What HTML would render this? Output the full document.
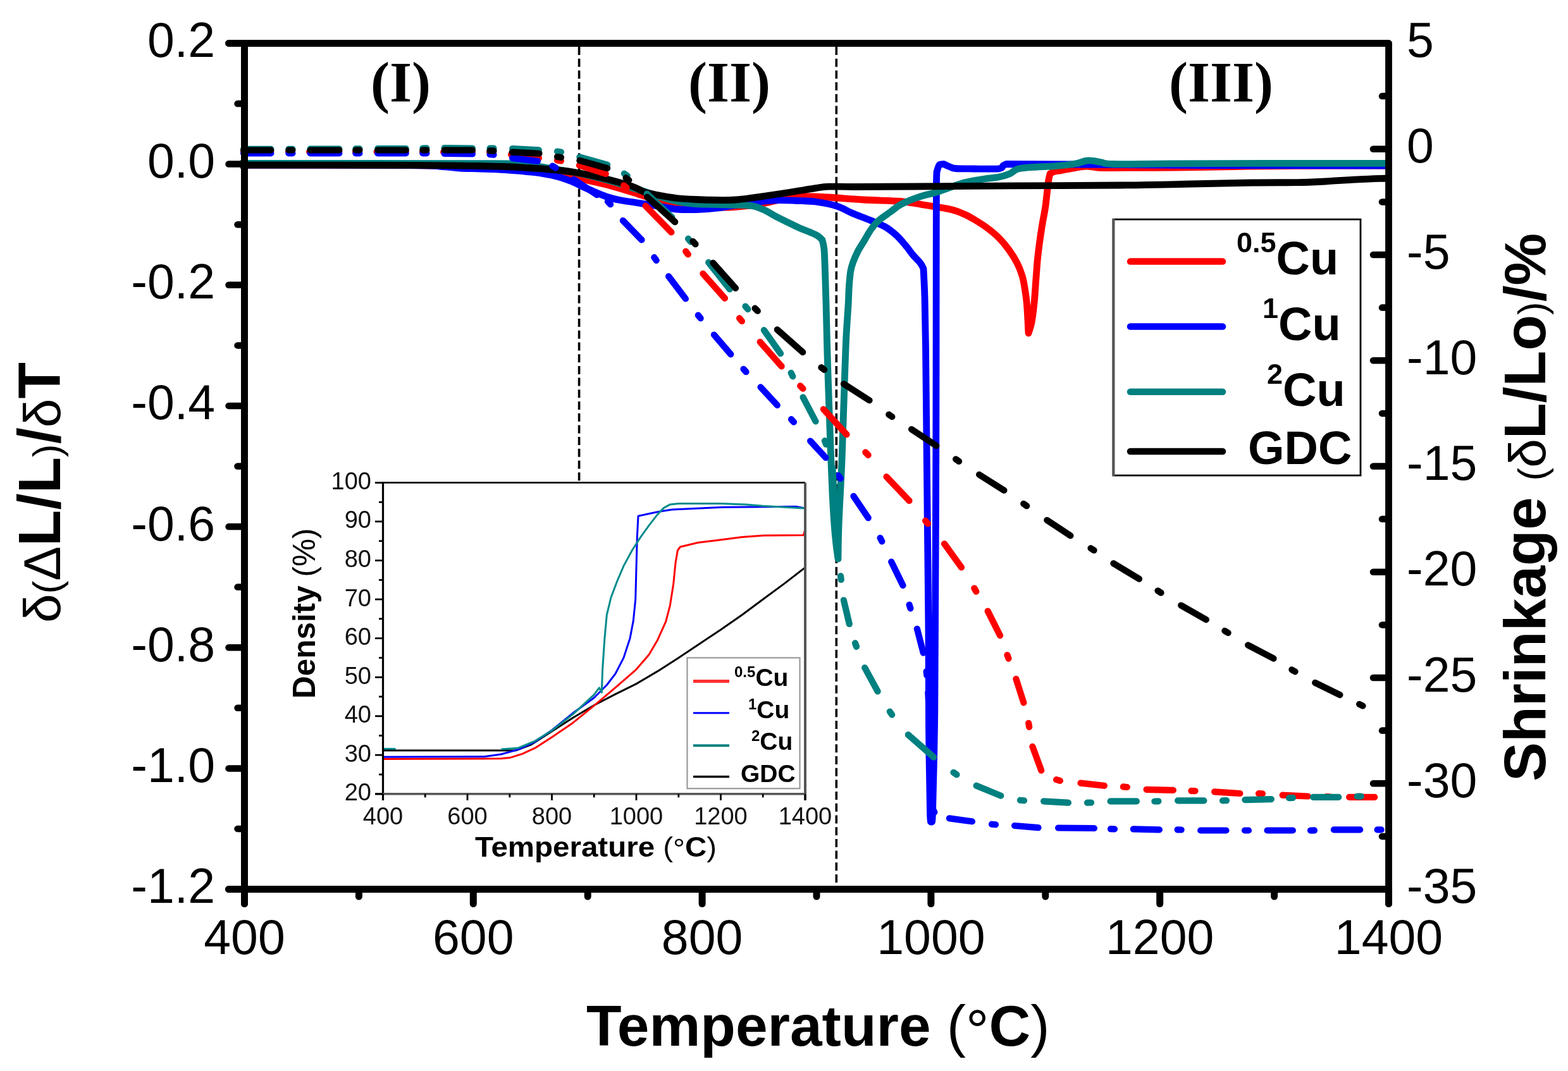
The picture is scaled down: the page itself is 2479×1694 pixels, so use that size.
<!DOCTYPE html><html><head><meta charset="utf-8"><title>Dilatometry plot</title>
<style>html,body{margin:0;padding:0;background:#fff;width:2479px;height:1694px;overflow:hidden}svg{display:block}.s{font-family:"Liberation Sans",Arial,sans-serif}.r{font-family:"Liberation Serif","Times New Roman",serif}</style></head><body>
<svg width="2479" height="1694" viewBox="0 0 2479 1694">
<rect width="2479" height="1694" fill="#fff"/>
<line x1="915.6" y1="74" x2="915.6" y2="1396" stroke="#000" stroke-width="3.6" stroke-dasharray="13 5.7"/>
<line x1="1322.3" y1="74" x2="1322.3" y2="1396" stroke="#000" stroke-width="3.6" stroke-dasharray="13 5.7"/>
<path d="M380,261 C425,261.1 586.7,261 650,261.5 C713.3,262 735.3,263.3 760,264 C784.7,264.7 784.7,264.6 798,265.5 C811.3,266.4 826.3,267.9 840,269.5 C853.7,271.1 866.2,272.6 880,275 C893.8,277.4 908.7,280.8 923,284 C937.3,287.2 951.7,290.2 966,294 C980.3,297.8 996.7,303.2 1009,307 C1021.3,310.8 1029.8,314.4 1040,317 C1050.2,319.6 1060,321.2 1070,322.5 C1080,323.8 1089.8,324.1 1100,325 C1110.2,325.9 1121,327.6 1131,328 C1141,328.4 1148.2,328.4 1160,327.5 C1171.8,326.6 1189.5,324.6 1202,322.6 C1214.5,320.6 1224.7,317.4 1235,315.5 C1245.3,313.6 1253.2,311.7 1264,311 C1274.8,310.3 1283,310.7 1300,311.5 C1317,312.3 1345.3,314.8 1366,316 C1386.7,317.2 1407.8,317.1 1424,318.5 C1440.2,319.9 1450,322.4 1463,324.5 C1476,326.6 1491.7,328.6 1502,331 C1512.3,333.4 1518.7,336.3 1525,339 C1531.3,341.7 1534.2,343.5 1540,347 C1545.8,350.5 1553.5,355.2 1560,360 C1566.5,364.8 1573.2,370.2 1579,376 C1584.8,381.8 1590.2,388.3 1595,395 C1599.8,401.7 1604.5,409.2 1608,416 C1611.5,422.8 1614,429.5 1616,436 C1618,442.5 1618.8,447.3 1620,455 C1621.2,462.7 1622.5,470 1623.5,482 C1624.5,494 1625.6,519.5 1626,527 C1626.8,524.2 1629.5,517.8 1631,510 C1632.5,502.2 1633.8,491.7 1635,480 C1636.2,468.3 1637,452.7 1638,440 C1639,427.3 1639.5,417.3 1641,404 C1642.5,390.7 1645,372.8 1647,360 C1649,347.2 1651.1,338.7 1652.8,327 C1654.5,315.3 1655.8,298.7 1657,290 C1658.2,281.3 1659.5,277.5 1660,275 C1661,274.4 1663.1,272.5 1666,271.6 C1668.9,270.7 1671.8,270.6 1677.5,269.6 C1683.2,268.6 1693.4,266.6 1700,265.5 C1706.6,264.4 1711.2,263.1 1717,263 C1722.8,262.9 1728.7,264.6 1735,265 C1741.3,265.4 1734.5,265.5 1755,265.5 C1775.5,265.5 1825.5,265.3 1858,265 C1890.5,264.7 1918,263.9 1950,263.5 C1982,263.1 2009.7,262.6 2050,262.3 C2090.3,262.1 2168.3,262.1 2192,262" fill="none" stroke="#ff0000" stroke-width="10.8" stroke-linejoin="round"/>
<path d="M380,261 C425,261.1 596.7,261.1 650,261.5 C703.3,261.9 687.2,262.8 700,263.5 C712.8,264.2 717,265.4 727,266 C737,266.6 748.2,266.6 760,267 C771.8,267.4 784.2,267.6 798,268.5 C811.8,269.4 829.3,270.8 843,272.5 C856.7,274.2 869.7,276.5 880,279 C890.3,281.5 898.2,284.8 905,287.5 C911.8,290.2 915.2,292.3 921,295 C926.8,297.7 933.5,300.8 940,303.5 C946.5,306.2 953.3,309.3 960,311.5 C966.7,313.7 971.8,314.9 980,316.5 C988.2,318.1 999,319.4 1009,321 C1019,322.6 1029.8,324.3 1040,326 C1050.2,327.7 1060,330.1 1070,331 C1080,331.9 1089,331.8 1100,331.5 C1111,331.2 1126,330.1 1136,329 C1146,327.9 1151.3,326.4 1160,325 C1168.7,323.6 1177,321.7 1188,320.3 C1199,318.9 1214,317.3 1226,316.8 C1238,316.3 1249.5,317.1 1260,317.5 C1270.5,317.9 1278.5,317.6 1289,319 C1299.5,320.4 1313.3,323 1323,326 C1332.7,329 1338.3,333.3 1347,337 C1355.7,340.7 1366.3,344.4 1375,348 C1383.7,351.6 1391.9,354.4 1399,358.5 C1406.1,362.6 1412,367.5 1417.5,372.5 C1423,377.5 1427.6,383.4 1432,388.6 C1436.4,393.9 1440.2,399.4 1444,404 C1447.8,408.6 1452.3,412.5 1455,416 C1457.7,419.5 1459.2,423.5 1460,425 C1460.3,432.5 1461.4,449.2 1462,470 C1462.6,490.8 1463,511.7 1463.5,550 C1464,588.3 1464.5,650 1465,700 C1465.5,750 1466,800 1466.5,850 C1467,900 1467.7,950 1468,1000 C1468.3,1050 1468.1,1102.5 1468.5,1150 C1468.9,1197.5 1469.8,1260.3 1470.5,1285 C1471.2,1309.7 1472.2,1295.8 1472.5,1298 C1472.8,1295.8 1473.7,1309.7 1474.5,1285 C1475.3,1260.3 1476.8,1197.5 1477.5,1150 C1478.2,1102.5 1478.2,1058.3 1478.5,1000 C1478.8,941.7 1479.2,866.7 1479.5,800 C1479.8,733.3 1479.9,666.7 1480,600 C1480.1,533.3 1480.1,450 1480.2,400 C1480.3,350 1480.3,321.3 1480.4,300 C1480.5,278.7 1480.9,276.7 1481,272 C1481.7,270.2 1483.2,263.1 1485,261 C1486.8,258.9 1490.8,259.8 1492,259.5 C1493.7,260.2 1498.8,262.8 1502,264 C1505.2,265.2 1504.7,266 1511,266.5 C1517.3,267 1528.7,266.9 1540,267 C1551.3,267.1 1571.3,267.6 1579,266.8 C1586.7,266 1584,263.2 1586,262 C1588,260.8 1590.2,259.9 1591,259.5 C1609.2,259.6 1648.5,259.7 1700,260 C1751.5,260.3 1818,261.2 1900,261.5 C1982,261.8 2143.3,261.9 2192,262" fill="none" stroke="#0000ff" stroke-width="10.8" stroke-linejoin="round"/>
<path d="M380,258.5 C446.7,258.5 706.7,258.4 780,258.7 C853.3,258.9 808.3,259.3 820,260 C831.7,260.7 840,261.7 850,263 C860,264.3 870,266.3 880,268 C890,269.7 900,271.1 910,273 C920,274.9 930,277.1 940,279.5 C950,281.9 960,284.6 970,287.5 C980,290.4 990.8,294.1 1000,297 C1009.2,299.9 1016.7,302.3 1025,305 C1033.3,307.7 1041.7,310.6 1050,313 C1058.3,315.4 1066.7,317.9 1075,319.5 C1083.3,321.1 1087.5,321.8 1100,322.5 C1112.5,323.2 1135.3,323.3 1150,323.8 C1164.7,324.3 1178,324 1188,325.5 C1198,327 1203.7,330.2 1210,333 C1216.3,335.8 1220.2,338.9 1226,342 C1231.8,345.1 1238.7,348.4 1245,351.5 C1251.3,354.6 1258.2,358 1264,360.6 C1269.8,363.2 1275.2,364.9 1280,367 C1284.8,369.1 1289.5,370.9 1292.8,373 C1296.1,375.1 1298.8,378.4 1300,379.5 C1300.5,382.1 1302.2,385.9 1303,395 C1303.8,404.1 1304.1,419.8 1304.6,434 C1305.1,448.2 1305.4,459 1306,480 C1306.6,501 1307.2,531.7 1308,560 C1308.8,588.3 1310.1,623.3 1311,650 C1311.9,676.7 1312.7,698.3 1313.5,720 C1314.3,741.7 1315.1,761.7 1316,780 C1316.9,798.3 1318,816.3 1319,830 C1320,843.7 1321,853 1322,862 C1323,871 1324.5,880.3 1325,884 C1325.1,878.3 1325.2,860.7 1325.5,850 C1325.8,839.3 1326,831.7 1326.5,820 C1327,808.3 1327.8,793.3 1328.5,780 C1329.2,766.7 1329.9,753.3 1330.5,740 C1331.1,726.7 1331.4,716.7 1332,700 C1332.6,683.3 1333.3,660 1334,640 C1334.7,620 1335.3,598.3 1336,580 C1336.7,561.7 1337.1,546.7 1338,530 C1338.9,513.3 1340.5,492.8 1341.2,480 C1341.9,467.2 1341.8,461.5 1342.4,453 C1343,444.5 1343.8,435.3 1344.8,429 C1345.8,422.7 1346.7,420.2 1348.6,415 C1350.5,409.8 1353.2,403.5 1356,398 C1358.8,392.5 1362.1,387.8 1365.6,382 C1369.1,376.2 1373.1,368.5 1377,363 C1380.9,357.5 1383.8,353.7 1389,349 C1394.2,344.3 1402.2,339.2 1408,335 C1413.8,330.8 1416.5,327.4 1424,323.5 C1431.5,319.6 1443.3,314.8 1453,311.5 C1462.7,308.2 1470.7,307.2 1482,303.6 C1493.3,300 1509.7,293.3 1521,290 C1532.3,286.7 1540.3,285.7 1550,284 C1559.7,282.3 1571.3,281.5 1579,280 C1586.7,278.5 1590.8,277.2 1596,275 C1601.2,272.8 1602.7,268.8 1610,267 C1617.3,265.2 1630.2,264.7 1640,264 C1649.8,263.3 1659,263.5 1669,262.7 C1679,261.9 1691.5,260.4 1700,259 C1708.5,257.6 1713.3,254.4 1720,254 C1726.7,253.6 1733.3,255.6 1740,256.5 C1746.7,257.4 1741.7,259.1 1760,259.5 C1778.3,259.9 1810,259 1850,258.8 C1890,258.6 1943,258.5 2000,258.4 C2057,258.3 2160,258.3 2192,258.3" fill="none" stroke="#008080" stroke-width="10.8" stroke-linejoin="round"/>
<path d="M380,261 C425,261.1 586.7,261.1 650,261.3 C713.3,261.6 735.3,262.1 760,262.5 C784.7,262.9 785.5,263 798,263.5 C810.5,264 823,264.8 835,265.5 C847,266.2 858.3,266.9 870,268 C881.7,269.1 894.2,270.4 905,272 C915.8,273.6 924.8,275.3 935,277.5 C945.2,279.7 955.2,282.1 966,285 C976.8,287.9 990.8,291.8 1000,295 C1009.2,298.2 1013.5,302.1 1021,304.5 C1028.5,306.9 1036.8,308 1045,309.5 C1053.2,311 1060.8,312.5 1070,313.5 C1079.2,314.5 1089,315 1100,315.5 C1111,316 1125.5,316.4 1136,316.5 C1146.5,316.6 1154,316.6 1163,316 C1172,315.4 1181.7,313.9 1190,312.8 C1198.3,311.7 1204.7,310.7 1213,309.5 C1221.3,308.3 1231.3,306.8 1240,305.5 C1248.7,304.2 1256.8,302.8 1265,301.5 C1273.2,300.2 1281.5,298.7 1289,297.6 C1296.5,296.6 1299.8,295.6 1310,295.2 C1320.2,294.8 1327.7,295.5 1350,295.5 C1372.3,295.5 1402.3,295.3 1444,295 C1485.7,294.7 1545.3,294.1 1600,293.8 C1654.7,293.5 1725,293.5 1772,293 C1819,292.5 1847.5,291.7 1882,291 C1916.5,290.3 1951,289.4 1979,289 C2007,288.6 2030.7,288.9 2050,288.6 C2069.3,288.3 2078.2,287.8 2095,287 C2111.8,286.2 2134.8,284.4 2151,283.6 C2167.2,282.8 2185.2,282.3 2192,282" fill="none" stroke="#000000" stroke-width="10.8" stroke-linejoin="round"/>
<path d="M385.1,240 L428.3,240 M489.1,240 L536.3,240 M595.6,240 L641.7,240 M701.1,240.5 L746.9,240.5 M808.1,244.6 L851.9,249.9 M915.9,261.6 L957.7,274.9 M1020.6,325.6 L1061.4,367.4 M1111.4,432.8 L1146,471.8 M1201.7,540.8 L1235.6,579.4 M1301.9,647.3 L1338.5,687.2 M1401.5,754.1 L1437.5,792 M1493,860.1 L1520,897.4 M1561.7,966.6 L1581.1,1005.2 M1606.4,1073.9 L1618.4,1111.5 M1632.4,1180.8 L1646.3,1218.7 M1708.5,1238.6 L1745.9,1242.8 M1812.6,1248.8 L1854.9,1249.9 M1920.1,1252.3 L1960.4,1255 M2027.7,1257.7 L2067.9,1259.5 M2133.1,1260.8 L2173.3,1260.8 M456,240 L462,240 M562,240 L568,240 M668,240 L674,240 M774,240.8 L780,241.2 M881,253.5 L887,254.5 M986.1,293.3 L990.7,297.1 M1084.2,397.6 L1087.8,402.4 M1169.1,503.4 L1172.9,508 M1265.2,610.4 L1269.4,614.6 M1368.4,715.4 L1372.6,719.8 M1463.1,823.7 L1466.9,828.3 M1540.3,930.4 L1543.3,935.6 M1592.5,1036 L1594.5,1041.6 M1626.2,1143.8 L1627.2,1149.8 M1670.1,1233.2 L1675.9,1234.8 M1775.8,1244.4 L1781.8,1245 M1883.5,1250.9 L1889.5,1251.1 M1990,1255.2 L1996,1255.4 M2097,1260.1 L2103,1260.3" fill="none" stroke="#ff0000" stroke-width="10.2" stroke-linecap="round"/>
<path d="M385.1,242.5 L428.3,242.5 M490.5,242.5 L536.3,242.5 M597.1,242.5 L641.7,242.5 M702.6,243 L746.9,243.5 M810.1,250.1 L849.9,254.9 M907.2,283.8 L943.8,308.2 M984.8,348.9 L1014.5,379.4 M1057.1,437.1 L1083.9,472.5 M1128.9,529.5 L1155.3,560.4 M1202.5,612.4 L1228.8,640.9 M1281.1,697.5 L1305.4,723.9 M1349.5,784.8 L1372.7,819.2 M1409.2,888.6 L1427.5,925.9 M1449.9,994.6 L1459.7,1032.6 M1467.3,1095.1 L1469.7,1139.9 M1471.7,1200.1 L1473.8,1244.9 M1500.9,1294.4 L1536.9,1299.3 M1604.1,1306 L1641.5,1309.1 M1673.1,1309.5 L1729.9,1310 M1791.8,1311.4 L1832.9,1312.3 M1898.1,1313.5 L1938.5,1313.5 M2003.5,1313.5 L2043.9,1313.5 M2108.9,1312.4 L2150.2,1312.4 M456.4,242.5 L462.4,242.5 M562.4,242.5 L568.4,242.5 M668.4,242.5 L674.4,242.5 M774.5,244.2 L780.5,244.8 M873.4,262.6 L878.6,265.4 M960.9,318.8 L965.1,323.2 M1034.3,407.1 L1037.7,411.9 M1103.8,498.6 L1107.6,503.4 M1175.5,583.8 L1179.5,588.2 M1251,663.2 L1255,667.6 M1325.3,752 L1328.7,756.8 M1391.6,850.9 L1394.4,856.3 M1437.6,956.5 L1439.4,962.3 M1464.7,1062 L1465.3,1068 M1470.9,1167 L1471.1,1173 M1474.7,1279.3 L1477.3,1284.7 M1568,1303.7 L1574,1304.3 M1756,1311.2 L1762,1311.4 M1861.6,1312.3 L1867.6,1312.5 M1968,1313.5 L1974,1313.5 M2072,1313.6 L2078,1313.4 M2177.6,1312.4 L2183.6,1312.4" fill="none" stroke="#0000ff" stroke-width="10.2" stroke-linecap="round"/>
<path d="M385.1,235.8 L428.3,235.8 M490.5,235.5 L536.3,235.5 M597.1,235 L641.7,235 M702.6,234 L746.9,234.5 M810.1,235.2 L851.9,237.3 M916.4,248.4 L960.1,260.6 M1022.7,306.5 L1062.3,343.5 M1120.2,415 L1153.8,457.5 M1207.9,522.2 L1234.1,559.2 M1269.6,628.3 L1289.5,666.5 M1316.3,740.1 L1324.7,876.9 M1333.9,949.3 L1342.8,987 M1367.2,1056.1 L1387.6,1093.5 M1435.8,1162.1 L1476.2,1197.6 M1543.7,1242.7 L1582.3,1258.6 M1650.1,1267.3 L1688.9,1269.7 M1755.6,1267.4 L1796.9,1267.4 M1862.1,1266.3 L1903.4,1266.3 M1968.4,1265.1 L2009.9,1264.1 M2076.1,1260.8 L2116.2,1260.8 M456.4,235.8 L462.4,235.8 M562.4,235.3 L568.4,235.3 M668.4,234.6 L674.4,234.4 M774.5,234.5 L780.5,234.5 M881,239.5 L887,240.5 M986.9,274.5 L991.7,278.1 M1088.1,377.7 L1091.9,382.3 M1178.5,484.5 L1182.3,489.1 M1250.7,589.9 L1253.3,595.3 M1303.9,697.2 L1306.1,702.8 M1329,911 L1329.8,917 M1352,1017.2 L1354,1022.8 M1406.8,1125.5 L1410.2,1130.5 M1507.5,1221.8 L1512.5,1225.2 M1613,1265.7 L1619,1266.3 M1719,1269.7 L1725,1269.5 M1825.4,1267.5 L1831.4,1267.3 M1933,1266.4 L1939,1266.2 M2038,1262.2 L2044,1261.8 M2145.8,1259.7 L2151.8,1259.7" fill="none" stroke="#008080" stroke-width="10.2" stroke-linecap="round"/>
<path d="M385.1,237.5 L428.3,237.5 M490.5,237.5 L536.3,237.5 M597.1,237.5 L641.7,237.5 M702.6,237.5 L746.9,237.5 M809.7,240.7 L852.5,242.8 M916.4,253.9 L960.1,266.1 M1023.2,311.5 L1067.2,351.1 M1127.4,415.8 L1163,455.8 M1228.8,521.4 L1269.2,557.1 M1334,607.3 L1374.5,633.2 M1441.1,679.1 L1480.3,705 M1548.1,750.7 L1587.4,775.6 M1655.3,822.8 L1692.4,847.2 M1760.4,891.2 L1801,915.7 M1867.2,957.5 L1906.9,980.1 M1973.2,1020.4 L2013.5,1041.6 M2079.2,1079.9 L2118.4,1099.1 M456.4,237.5 L462.4,237.5 M562.4,237.5 L568.4,237.5 M668.4,237.5 L674.4,237.5 M774.5,238.3 L780.5,238.7 M881,248 L887,249 M989.5,281.4 L994.3,285 M1095.5,381.8 L1099.5,386.2 M1193.6,487.7 L1197.8,491.9 M1298.4,581.2 L1303.2,584.8 M1405.3,655.7 L1410.3,659.1 M1511.1,726.3 L1516.1,729.7 M1618.2,796.8 L1623.2,800.2 M1724.5,867.2 L1729.5,870.4 M1830.5,934.4 L1835.5,937.6 M1936.4,997.8 L1941.6,1001 M2042.4,1059.3 L2047.6,1062.3 M2149.1,1113.9 L2154.5,1116.5" fill="none" stroke="#000000" stroke-width="10.2" stroke-linecap="round"/>
<g stroke="#000" fill="none" stroke-linecap="round" stroke-linejoin="round">
<path d="M361.5,68.5 H2195.5 V1429.5" stroke-width="10.8"/>
<path d="M361.5,1406.5 H2195.5" stroke-width="11"/>
<path d="M386.5,68.5 V1429.5" stroke-width="11"/>
<line x1="361.5" y1="68.5" x2="386.5" y2="68.5" stroke-width="10.5"/>
<line x1="375.5" y1="164.1" x2="386.5" y2="164.1" stroke-width="10.5"/>
<line x1="361.5" y1="259.6" x2="386.5" y2="259.6" stroke-width="10.5"/>
<line x1="375.5" y1="355.2" x2="386.5" y2="355.2" stroke-width="10.5"/>
<line x1="361.5" y1="450.8" x2="386.5" y2="450.8" stroke-width="10.5"/>
<line x1="375.5" y1="546.4" x2="386.5" y2="546.4" stroke-width="10.5"/>
<line x1="361.5" y1="641.9" x2="386.5" y2="641.9" stroke-width="10.5"/>
<line x1="375.5" y1="737.5" x2="386.5" y2="737.5" stroke-width="10.5"/>
<line x1="361.5" y1="833.1" x2="386.5" y2="833.1" stroke-width="10.5"/>
<line x1="375.5" y1="928.6" x2="386.5" y2="928.6" stroke-width="10.5"/>
<line x1="361.5" y1="1024.2" x2="386.5" y2="1024.2" stroke-width="10.5"/>
<line x1="375.5" y1="1119.8" x2="386.5" y2="1119.8" stroke-width="10.5"/>
<line x1="361.5" y1="1215.4" x2="386.5" y2="1215.4" stroke-width="10.5"/>
<line x1="375.5" y1="1310.9" x2="386.5" y2="1310.9" stroke-width="10.5"/>
<line x1="361.5" y1="1406.5" x2="386.5" y2="1406.5" stroke-width="10.5"/>
<line x1="2171" y1="68.5" x2="2195.5" y2="68.5" stroke-width="10.5"/>
<line x1="2185" y1="152.1" x2="2195.5" y2="152.1" stroke-width="10.5"/>
<line x1="2171" y1="235.8" x2="2195.5" y2="235.8" stroke-width="10.5"/>
<line x1="2185" y1="319.4" x2="2195.5" y2="319.4" stroke-width="10.5"/>
<line x1="2171" y1="403.0" x2="2195.5" y2="403.0" stroke-width="10.5"/>
<line x1="2185" y1="486.6" x2="2195.5" y2="486.6" stroke-width="10.5"/>
<line x1="2171" y1="570.2" x2="2195.5" y2="570.2" stroke-width="10.5"/>
<line x1="2185" y1="653.9" x2="2195.5" y2="653.9" stroke-width="10.5"/>
<line x1="2171" y1="737.5" x2="2195.5" y2="737.5" stroke-width="10.5"/>
<line x1="2185" y1="821.1" x2="2195.5" y2="821.1" stroke-width="10.5"/>
<line x1="2171" y1="904.8" x2="2195.5" y2="904.8" stroke-width="10.5"/>
<line x1="2185" y1="988.4" x2="2195.5" y2="988.4" stroke-width="10.5"/>
<line x1="2171" y1="1072.0" x2="2195.5" y2="1072.0" stroke-width="10.5"/>
<line x1="2185" y1="1155.6" x2="2195.5" y2="1155.6" stroke-width="10.5"/>
<line x1="2171" y1="1239.2" x2="2195.5" y2="1239.2" stroke-width="10.5"/>
<line x1="2185" y1="1322.9" x2="2195.5" y2="1322.9" stroke-width="10.5"/>
<line x1="2171" y1="1406.5" x2="2195.5" y2="1406.5" stroke-width="10.5"/>
<line x1="386.5" y1="1406.5" x2="386.5" y2="1429.5" stroke-width="11"/>
<line x1="567.4" y1="1406.5" x2="567.4" y2="1418.0" stroke-width="11"/>
<line x1="748.3" y1="1406.5" x2="748.3" y2="1429.5" stroke-width="11"/>
<line x1="929.2" y1="1406.5" x2="929.2" y2="1418.0" stroke-width="11"/>
<line x1="1110.1" y1="1406.5" x2="1110.1" y2="1429.5" stroke-width="11"/>
<line x1="1291.0" y1="1406.5" x2="1291.0" y2="1418.0" stroke-width="11"/>
<line x1="1471.9" y1="1406.5" x2="1471.9" y2="1429.5" stroke-width="11"/>
<line x1="1652.8" y1="1406.5" x2="1652.8" y2="1418.0" stroke-width="11"/>
<line x1="1833.7" y1="1406.5" x2="1833.7" y2="1429.5" stroke-width="11"/>
<line x1="2014.6" y1="1406.5" x2="2014.6" y2="1418.0" stroke-width="11"/>
<line x1="2195.5" y1="1406.5" x2="2195.5" y2="1429.5" stroke-width="11"/>
</g>
<g class="s" font-size="77" fill="#000">
<text x="340" y="90.0" text-anchor="end">0.2</text>
<text x="340" y="281.1" text-anchor="end">0.0</text>
<text x="340" y="472.3" text-anchor="end">-0.2</text>
<text x="340" y="663.4" text-anchor="end">-0.4</text>
<text x="340" y="854.6" text-anchor="end">-0.6</text>
<text x="340" y="1045.7" text-anchor="end">-0.8</text>
<text x="340" y="1236.9" text-anchor="end">-1.0</text>
<text x="340" y="1428.0" text-anchor="end">-1.2</text>
<text x="2224" y="90.0">5</text>
<text x="2224" y="257.2">0</text>
<text x="2224" y="424.5">-5</text>
<text x="2224" y="591.8">-10</text>
<text x="2224" y="759.0">-15</text>
<text x="2224" y="926.2">-20</text>
<text x="2224" y="1093.5">-25</text>
<text x="2224" y="1260.8">-30</text>
<text x="2224" y="1428.0">-35</text>
<text x="386.5" y="1509" text-anchor="middle">400</text>
<text x="748.3" y="1509" text-anchor="middle">600</text>
<text x="1110.1" y="1509" text-anchor="middle">800</text>
<text x="1471.9" y="1509" text-anchor="middle">1000</text>
<text x="1833.7" y="1509" text-anchor="middle">1200</text>
<text x="2195.5" y="1509" text-anchor="middle">1400</text>
</g>
<text class="s" x="927" y="1654" font-size="91" font-weight="bold">Temperature <tspan font-weight="normal">(</tspan><tspan font-weight="normal" dy="7">&#176;</tspan><tspan dy="-7">C</tspan><tspan font-weight="normal">)</tspan></text>
<text class="s" transform="translate(94.5,985) rotate(-90)" font-size="94" font-weight="bold"><tspan font-weight="normal" font-size="82">&#948;</tspan><tspan font-weight="normal" font-size="62">(</tspan><tspan font-weight="normal" font-size="82">&#916;</tspan>L/L<tspan font-weight="normal" font-size="62">)</tspan>/<tspan font-weight="normal" font-size="82">&#948;</tspan>T</text>
<text class="s" transform="translate(2442.5,1236) rotate(-90)" font-size="93" font-weight="bold">Shrinkage <tspan font-weight="normal" font-size="62">(</tspan><tspan font-weight="normal" font-size="82">&#948;</tspan>L/Lo<tspan font-weight="normal" font-size="62">)</tspan>/%</text>
<g class="r" font-size="90" font-weight="bold" fill="#000">
<text x="586" y="161">(I)</text>
<text x="1088" y="161">(II)</text>
<text x="1848" y="161">(III)</text>
</g>
<rect x="1760" y="347" width="391" height="405" fill="#fff" stroke="#000" stroke-width="2.8"/>
<line x1="1760.5" y1="346" x2="1760.5" y2="753" stroke="#555" stroke-width="4"/>
<line x1="1787" y1="413.6" x2="1933" y2="413.6" stroke="#ff0000" stroke-width="10.5" stroke-linecap="round"/>
<line x1="1787" y1="516.5" x2="1933" y2="516.5" stroke="#0000ff" stroke-width="10.5" stroke-linecap="round"/>
<line x1="1787" y1="619.7" x2="1933" y2="619.7" stroke="#008080" stroke-width="10.5" stroke-linecap="round"/>
<line x1="1787" y1="714.0" x2="1933" y2="714.0" stroke="#000000" stroke-width="10.5" stroke-linecap="round"/>
<g class="s" font-weight="bold" font-size="74" fill="#000">
<text x="1955" y="433.5"><tspan font-size="45" dy="-35">0.5</tspan><tspan dy="35">Cu</tspan></text>
<text x="1996" y="538"><tspan font-size="45" dy="-35">1</tspan><tspan dy="35">Cu</tspan></text>
<text x="2003" y="641.5"><tspan font-size="45" dy="-35">2</tspan><tspan dy="35">Cu</tspan></text>
<text x="1973" y="734">GDC</text>
</g>
<rect x="455" y="762.1" width="824.0" height="637.9" fill="#fff"/>
<polyline points="605.5,1184.4 625.5,1184.4" fill="none" stroke="#009999" stroke-width="3" stroke-linejoin="round"/>
<polyline points="605.5,1186.9 815.8,1186.9 839.1,1178.2 872.5,1156.7 905.9,1135.2 939.2,1115.5 972.6,1098.2 1006.0,1081.6 1039.4,1061.9 1072.8,1040.4 1106.1,1018.2 1139.5,996.1 1172.9,972.7 1206.2,948.0 1239.6,923.4 1273.0,897.6" fill="none" stroke="#000000" stroke-width="3" stroke-linejoin="round"/>
<polyline points="605.5,1200.4 792.4,1199.8 805.8,1198.6 825.8,1192.4 845.8,1183.2 872.5,1165.9 905.9,1143.2 939.2,1116.1 972.6,1087.8 1006.0,1058.8 1026.0,1035.5 1039.4,1012.7 1052.7,983.1 1059.4,957.3 1064.7,923.4 1068.1,889.6 1071.4,870.5 1075.4,865.0 1103.5,858.2 1138.2,853.9 1172.9,849.6 1206.9,847.1 1270.3,846.5 1273.0,837.3" fill="none" stroke="#ff0000" stroke-width="3" stroke-linejoin="round"/>
<polyline points="605.5,1197.3 765.7,1196.7 792.4,1193.0 819.1,1185.6 845.8,1173.3 872.5,1154.9 905.9,1127.8 939.2,1103.8 959.3,1083.5 972.6,1066.2 986.0,1040.4 996.0,1009.6 1001.3,981.9 1004.7,948.0 1006.0,898.8 1007.3,849.6 1009.0,816.3 1022.7,813.3 1043.4,808.9 1062.4,805.9 1142.8,802.2 1258.3,801.3 1273.0,804.0" fill="none" stroke="#0000ff" stroke-width="3" stroke-linejoin="round"/>
<polyline points="792.4,1185.0 819.1,1183.2 845.8,1172.1 872.5,1155.5 905.9,1129.6 925.9,1111.2 939.2,1098.8 947.3,1087.8 951.3,1095.2 952.6,1058.8 955.9,1009.6 959.3,972.7 966.0,945.0 976.0,918.5 986.0,895.1 999.3,870.5 1012.7,849.6 1026.0,831.1 1039.4,813.9 1049.4,803.4 1059.4,797.9 1072.8,796.6 1139.5,796.6 1179.5,797.9 1206.2,800.3 1273.0,804.0" fill="none" stroke="#008b8b" stroke-width="3" stroke-linejoin="round"/>
<line x1="593.0" y1="763.4" x2="1273.0" y2="763.4" stroke="#000" stroke-width="2.6"/>
<line x1="605.5" y1="763.4" x2="605.5" y2="1265.8" stroke="#000" stroke-width="3.2"/>
<line x1="1273.0" y1="763.4" x2="1273.0" y2="1265.8" stroke="#555" stroke-width="4"/>
<line x1="593.0" y1="1255.8" x2="1275.0" y2="1255.8" stroke="#555" stroke-width="3.6"/>
<g stroke="#000" stroke-width="2.8">
<line x1="593" y1="763.4" x2="605.5" y2="763.4"/>
<line x1="599" y1="794.2" x2="605.5" y2="794.2"/>
<line x1="593" y1="824.9" x2="605.5" y2="824.9"/>
<line x1="599" y1="855.7" x2="605.5" y2="855.7"/>
<line x1="593" y1="886.5" x2="605.5" y2="886.5"/>
<line x1="599" y1="917.3" x2="605.5" y2="917.3"/>
<line x1="593" y1="948.0" x2="605.5" y2="948.0"/>
<line x1="599" y1="978.8" x2="605.5" y2="978.8"/>
<line x1="593" y1="1009.6" x2="605.5" y2="1009.6"/>
<line x1="599" y1="1040.4" x2="605.5" y2="1040.4"/>
<line x1="593" y1="1071.2" x2="605.5" y2="1071.2"/>
<line x1="599" y1="1101.9" x2="605.5" y2="1101.9"/>
<line x1="593" y1="1132.7" x2="605.5" y2="1132.7"/>
<line x1="599" y1="1163.5" x2="605.5" y2="1163.5"/>
<line x1="593" y1="1194.2" x2="605.5" y2="1194.2"/>
<line x1="599" y1="1225.0" x2="605.5" y2="1225.0"/>
<line x1="593" y1="1255.8" x2="605.5" y2="1255.8"/>
<line x1="605.5" y1="1255.8" x2="605.5" y2="1265.8"/>
<line x1="672.2" y1="1255.8" x2="672.2" y2="1261.3"/>
<line x1="739.0" y1="1255.8" x2="739.0" y2="1265.8"/>
<line x1="805.8" y1="1255.8" x2="805.8" y2="1261.3"/>
<line x1="872.5" y1="1255.8" x2="872.5" y2="1265.8"/>
<line x1="939.2" y1="1255.8" x2="939.2" y2="1261.3"/>
<line x1="1006.0" y1="1255.8" x2="1006.0" y2="1265.8"/>
<line x1="1072.8" y1="1255.8" x2="1072.8" y2="1261.3"/>
<line x1="1139.5" y1="1255.8" x2="1139.5" y2="1265.8"/>
<line x1="1206.2" y1="1255.8" x2="1206.2" y2="1261.3"/>
<line x1="1273.0" y1="1255.8" x2="1273.0" y2="1265.8"/>
</g>
<g class="s" font-size="38" fill="#111">
<text x="587" y="773.9" text-anchor="end">100</text>
<text x="587" y="835.4" text-anchor="end">90</text>
<text x="587" y="897.0" text-anchor="end">80</text>
<text x="587" y="958.5" text-anchor="end">70</text>
<text x="587" y="1020.1" text-anchor="end">60</text>
<text x="587" y="1081.7" text-anchor="end">50</text>
<text x="587" y="1143.2" text-anchor="end">40</text>
<text x="587" y="1204.8" text-anchor="end">30</text>
<text x="587" y="1266.3" text-anchor="end">20</text>
<text x="605.5" y="1304" text-anchor="middle">400</text>
<text x="739.0" y="1304" text-anchor="middle">600</text>
<text x="872.5" y="1304" text-anchor="middle">800</text>
<text x="1006.0" y="1304" text-anchor="middle">1000</text>
<text x="1139.5" y="1304" text-anchor="middle">1200</text>
<text x="1273.0" y="1304" text-anchor="middle">1400</text>
</g>
<text class="s" transform="translate(751,1354.5) scale(1.055,1)" font-size="45" font-weight="bold">Temperature <tspan font-weight="normal">(</tspan><tspan font-weight="normal" dy="3">&#176;</tspan><tspan dy="-3">C</tspan><tspan font-weight="normal">)</tspan></text>
<text class="s" transform="translate(497.6,1105) rotate(-90)" font-size="49.5" font-weight="bold">Density <tspan font-weight="normal">(%)</tspan></text>
<rect x="1086.5" y="1040.4" width="178" height="206.8" fill="#fff" stroke="#999" stroke-width="2.2"/>
<line x1="1096" y1="1077.5" x2="1153" y2="1077.5" stroke="#ff3030" stroke-width="5"/>
<line x1="1096" y1="1127.8" x2="1153" y2="1127.8" stroke="#0000ff" stroke-width="3"/>
<line x1="1096" y1="1179.2" x2="1153" y2="1179.2" stroke="#008080" stroke-width="4"/>
<line x1="1096" y1="1228.4" x2="1153" y2="1228.4" stroke="#000000" stroke-width="3.5"/>
<g class="s" font-weight="bold" font-size="39" fill="#000">
<text x="1161" y="1085"><tspan font-size="24" dy="-14">0.5</tspan><tspan dy="14">Cu</tspan></text>
<text x="1183" y="1135.7"><tspan font-size="24" dy="-14">1</tspan><tspan dy="14">Cu</tspan></text>
<text x="1188" y="1185.7"><tspan font-size="24" dy="-14">2</tspan><tspan dy="14">Cu</tspan></text>
<text x="1171" y="1237">GDC</text>
</g>
</svg></body></html>
